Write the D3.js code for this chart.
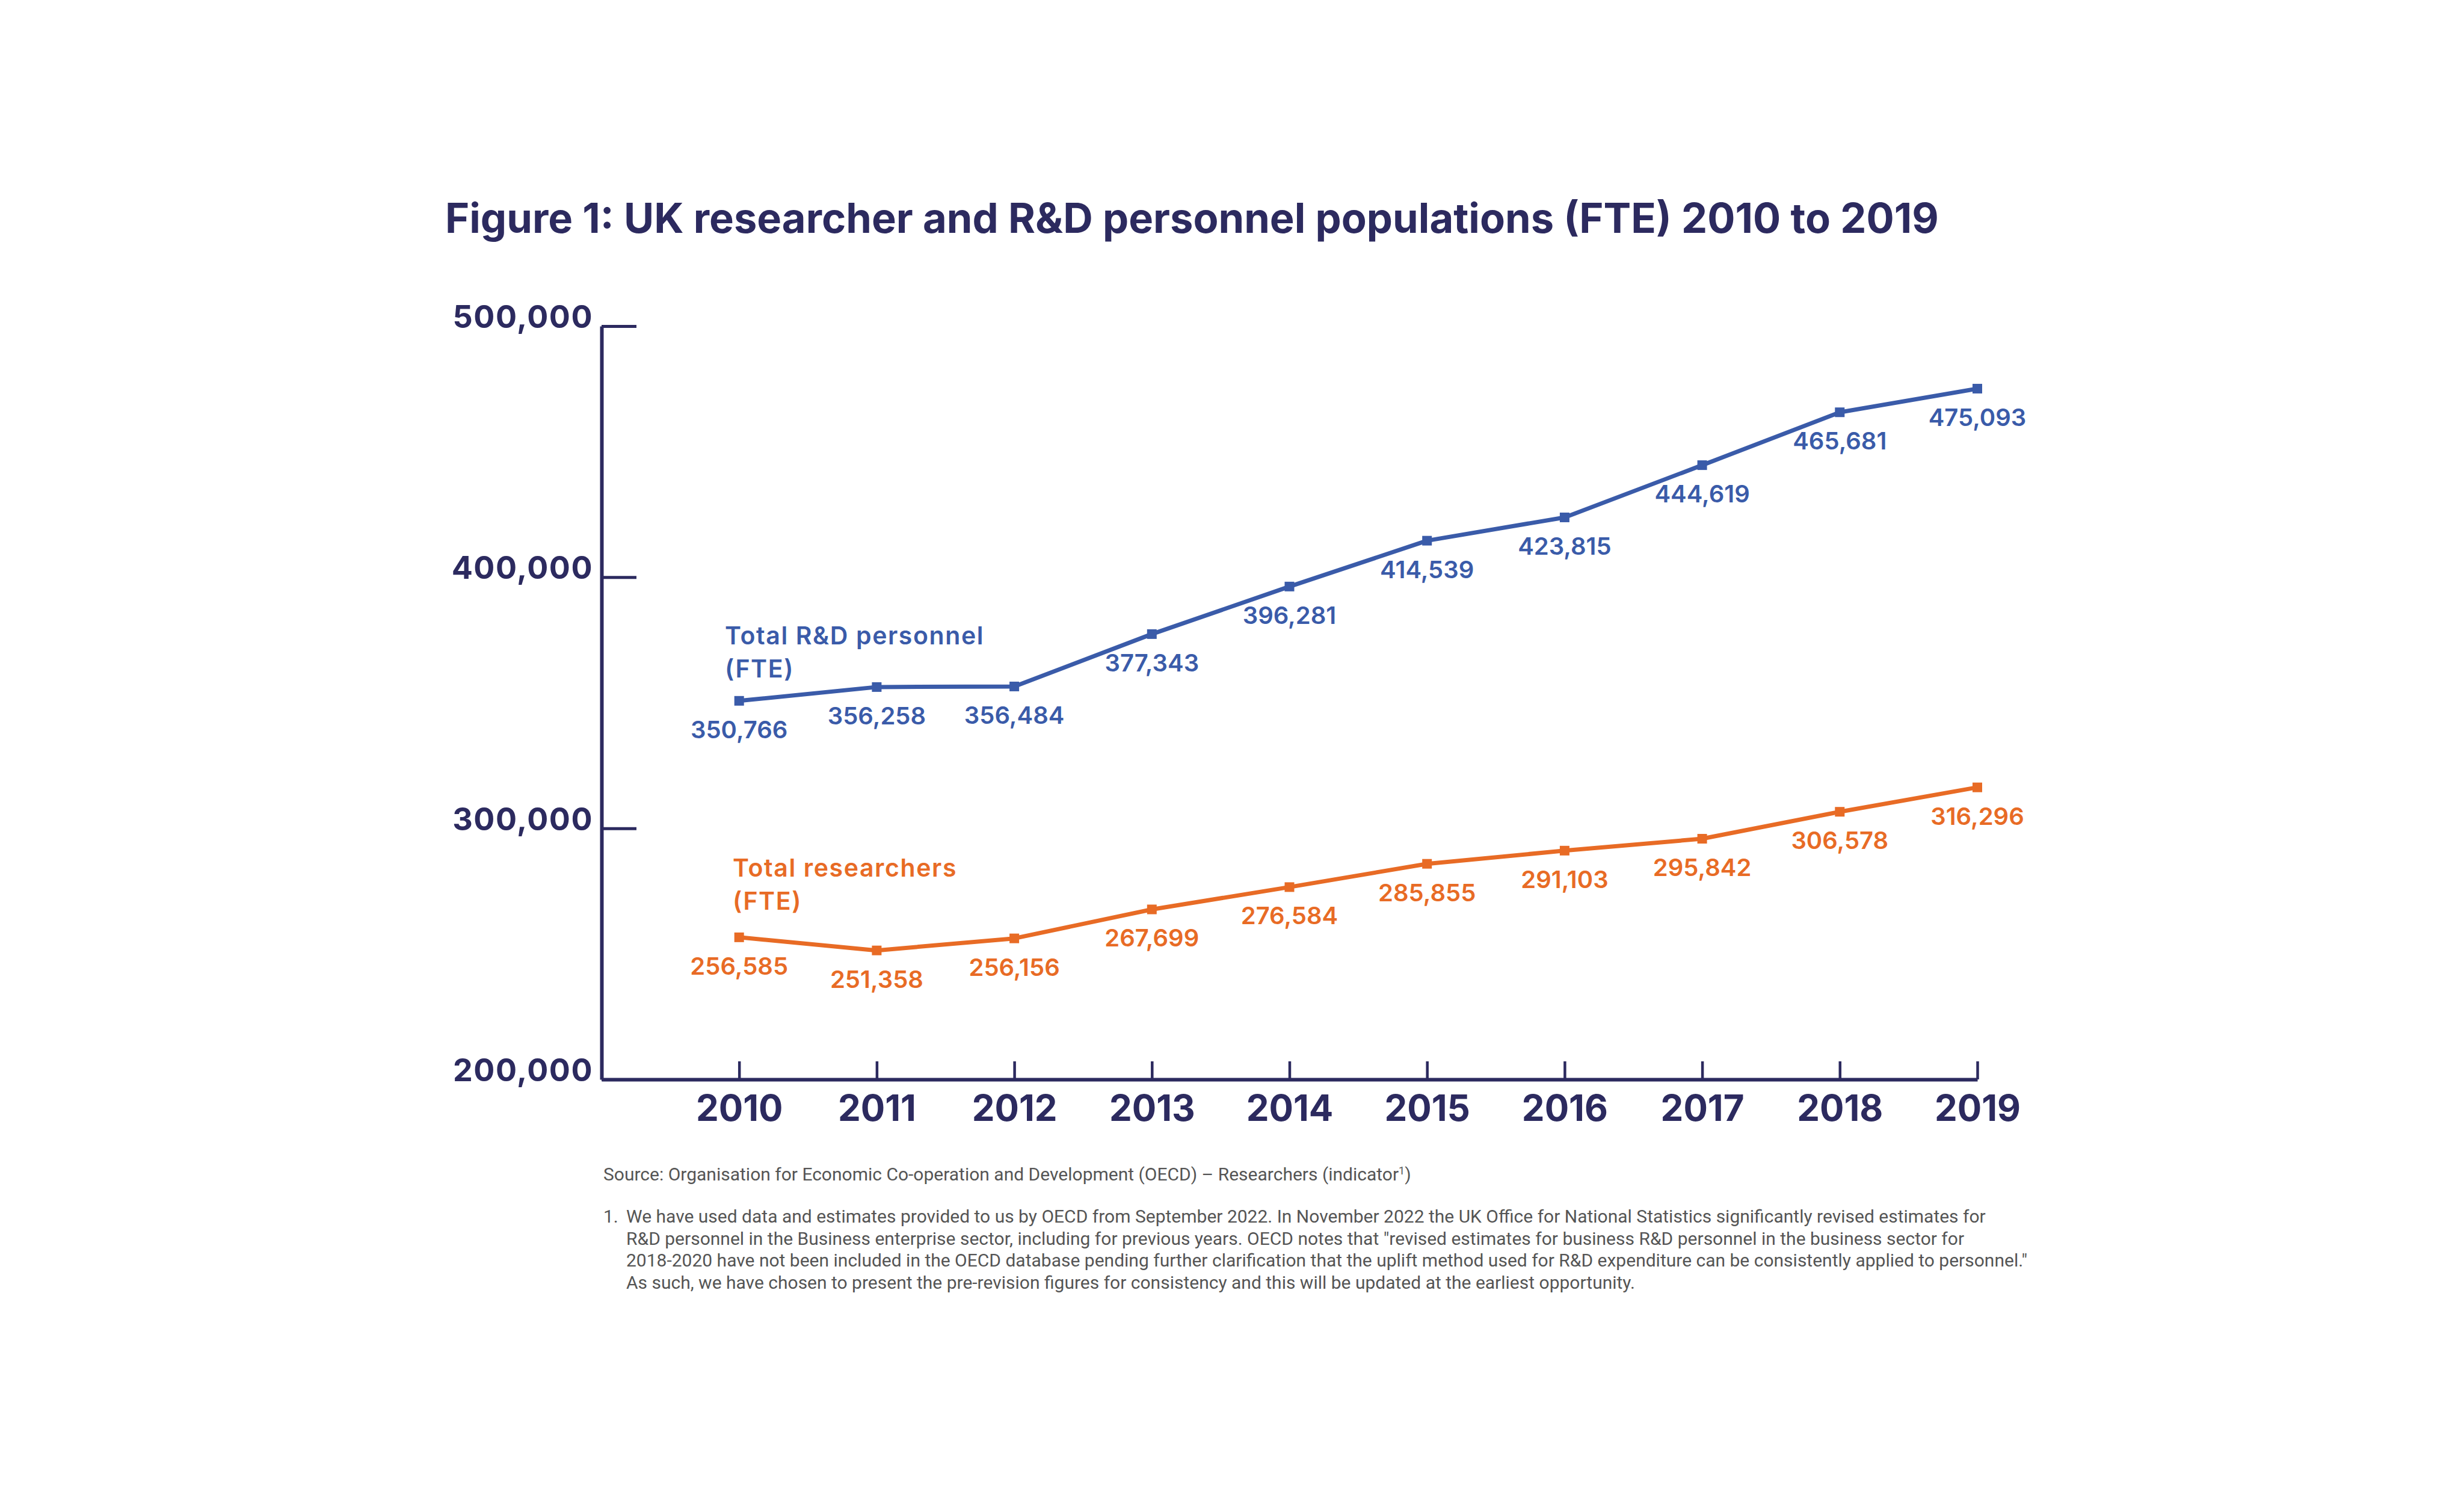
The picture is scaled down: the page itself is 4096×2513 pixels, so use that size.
<!DOCTYPE html>
<html>
<head>
<meta charset="utf-8">
<script src="https://cdn.jsdelivr.net/npm/d3@7"></script>
<style>
  html, body { margin: 0; padding: 0; background: #fff; }
  svg { display: block; }
</style>
</head>
<body>
<svg id="chart"></svg>
<script>
// chart data
const years = [2010, 2011, 2012, 2013, 2014, 2015, 2016, 2017, 2018, 2019];
const personnel = [350766, 356258, 356484, 377343, 396281, 414539, 423815, 444619, 465681, 475093];
const researchers = [256585, 251358, 256156, 267699, 276584, 285855, 291103, 295842, 306578, 316296];
const yTicks = [200000, 300000, 400000, 500000];

const titleText = "Figure 1: UK researcher and R&D personnel populations (FTE) 2010 to 2019";
const sourceText = "Source: Organisation for Economic Co-operation and Development (OECD) \u2013 Researchers (indicator";
const noteLines = [
  "We have used data and estimates provided to us by OECD from September 2022. In November 2022 the UK Office for National Statistics significantly revised estimates for",
  "R&D personnel in the Business enterprise sector, including for previous years. OECD notes that \"revised estimates for business R&D personnel in the business sector for",
  "2018-2020 have not been included in the OECD database pending further clarification that the uplift method used for R&D expenditure can be consistently applied to personnel.\"",
  "As such, we have chosen to present the pre-revision figures for consistency and this will be updated at the earliest opportunity."
];

const NAVY = '#2c2a5f', BLUE = '#3a5ba9', ORANGE = '#e86b25', GREY = '#555555';
const FONT = 'Inter, "Noto Sans", sans-serif';

const W = 4096, H = 2513;
const svg = d3.select('#chart').attr('width', W).attr('height', H);
svg.append('rect').attr('width', W).attr('height', H).attr('fill', '#fff');

// 2009 sits on the y axis so the x domain line starts there
const x = d3.scaleLinear().domain([2009, 2019]).range([1000, 3287]);
const y = d3.scaleLinear().domain([200000, 500000]).range([1794, 542]);

// title
svg.append('text')
    .attr('x', 740).attr('y', 387)
    .attr('fill', NAVY)
    .style('font-family', FONT).style('font-weight', 700).style('font-size', '68.6px')
    .text(titleText);

// y axis, ticks pointing inward
const yAxisG = svg.append('g')
    .attr('transform', `translate(${x(2009)},0)`)
    .call(d3.axisLeft(y).tickValues(yTicks).tickSize(-58).tickSizeOuter(0).tickPadding(14)
        .tickFormat(d3.format(',')));
yAxisG.select('.domain').attr('stroke', NAVY).attr('stroke-width', 6);
yAxisG.selectAll('.tick line').attr('stroke', NAVY).attr('stroke-width', 5);
yAxisG.selectAll('.tick text')
    .attr('fill', NAVY).attr('dy', '0.05em')
    .style('font-family', FONT).style('font-weight', 700).style('font-size', '52px')
    .style('letter-spacing', '1.5px');

// x axis, ticks pointing inward
const xAxisG = svg.append('g')
    .attr('transform', `translate(0,${y(200000)})`)
    .call(d3.axisBottom(x).tickValues(years).tickSize(-30).tickSizeOuter(0).tickPadding(26)
        .tickFormat(d3.format('d')));
xAxisG.select('.domain').attr('stroke', NAVY).attr('stroke-width', 6);
xAxisG.selectAll('.tick line').attr('stroke', NAVY).attr('stroke-width', 4.5);
xAxisG.selectAll('.tick text')
    .attr('fill', NAVY)
    .style('font-family', FONT).style('font-weight', 700).style('font-size', '60px');

// series
const series = [
  {name: ['Total R&D personnel', '(FTE)'], values: personnel, color: BLUE, lx: 1205, ly: 1071},
  {name: ['Total researchers', '(FTE)'], values: researchers, color: ORANGE, lx: 1218, ly: 1457}
];

const line = d3.line()
    .x((d, i) => x(years[i]))
    .y(d => y(d));

series.forEach(s => {
  const g = svg.append('g');

  g.append('path')
      .datum(s.values)
      .attr('d', line)
      .attr('fill', 'none')
      .attr('stroke', s.color)
      .attr('stroke-width', 7)
      .attr('stroke-linejoin', 'round');

  g.selectAll('rect.marker')
      .data(s.values)
    .join('rect')
      .attr('class', 'marker')
      .attr('x', (d, i) => x(years[i]) - 8)
      .attr('y', d => y(d) - 8)
      .attr('width', 16).attr('height', 16)
      .attr('fill', s.color);

  g.selectAll('text.value')
      .data(s.values)
    .join('text')
      .attr('class', 'value')
      .attr('x', (d, i) => x(years[i]))
      .attr('y', d => y(d) + 62)
      .attr('text-anchor', 'middle')
      .attr('fill', s.color)
      .style('font-family', FONT).style('font-weight', 600).style('font-size', '40px')
      .text(d => d3.format(',')(d));

  const lbl = g.append('text')
      .attr('fill', s.color)
      .style('font-family', FONT).style('font-weight', 600).style('font-size', '41px')
      .style('letter-spacing', '1.6px');
  s.name.forEach((t, i) => {
    lbl.append('tspan').attr('x', s.lx).attr('y', s.ly + i * 55).text(t);
  });
});

// source + footnote
const src = svg.append('text')
    .attr('x', 1003).attr('y', 1962)
    .attr('fill', GREY)
    .style('font-family', 'Roboto, sans-serif').style('font-size', '30px');
src.append('tspan').text(sourceText);
src.append('tspan').attr('baseline-shift', 'super').style('font-size', '18px').text('1');
src.append('tspan').text(')');

const note = svg.append('g')
    .attr('fill', GREY)
    .style('font-family', 'Roboto, sans-serif').style('font-size', '30px');
note.append('text').attr('x', 1003).attr('y', 2032).text('1.');
note.selectAll('text.line')
    .data(noteLines)
  .join('text')
    .attr('class', 'line')
    .attr('x', 1041)
    .attr('y', (d, i) => 2032 + i * 36.5)
    .text(d => d);
</script>
</body>
</html>
